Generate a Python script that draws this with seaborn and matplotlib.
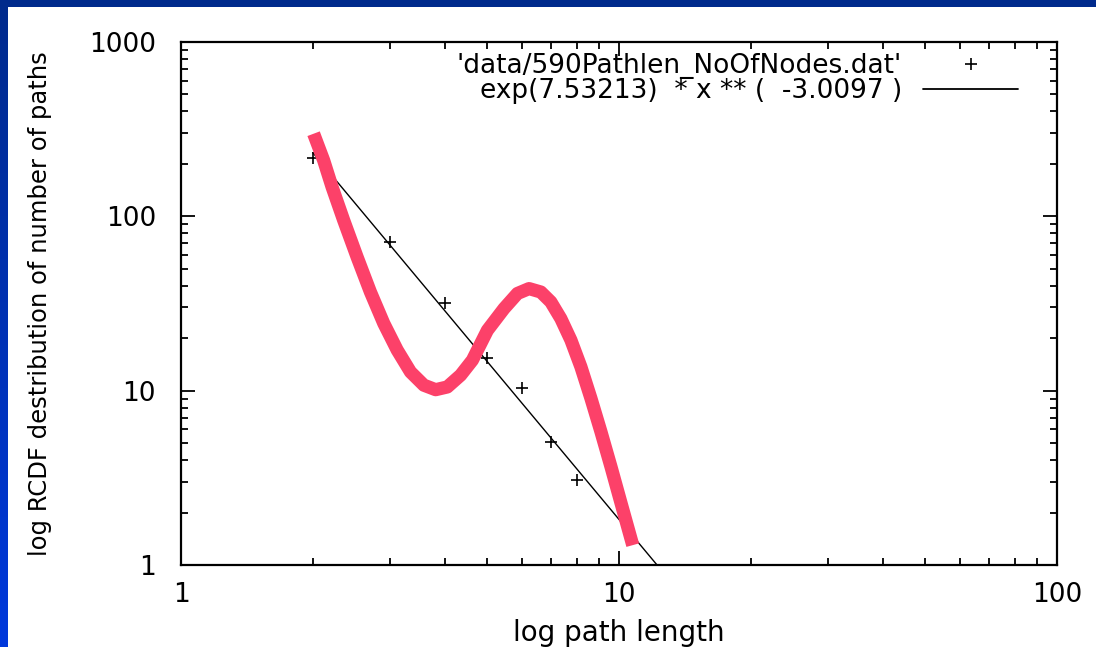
import numpy as np
import pandas as pd
import matplotlib
matplotlib.use("Agg")
import matplotlib.pyplot as plt
import matplotlib.ticker as mticker
from matplotlib.lines import Line2D
import seaborn as sns

# ---- data ----
path_len = [2, 3, 4, 5, 6, 7, 8]
n_paths = [215, 71, 32, 15.4, 10.3, 5.07, 3.07]

fit_coef = 7.53213
fit_exp = -3.0097
fit_x_range = [2, 12.21]

# hand-drawn highlight curve (read point by point)
curve_x = [2.008, 2.117, 2.213, 2.352, 2.524, 2.707, 2.904, 3.116, 3.342, 3.585,
           3.814, 4.055, 4.349, 4.627, 5.007, 5.465, 5.864, 6.232, 6.630, 6.988,
           7.366, 7.766, 8.185, 8.63, 9.095, 9.587, 10.11, 10.75]
curve_y = [297.8, 209.4, 147.2, 94.9, 58.4, 36.8, 24.3, 17.1, 12.8, 10.75,
           10.13, 10.5, 12.27, 14.96, 22.2, 29.6, 36.1, 38.5, 36.8, 32.3,
           25.9, 19.5, 13.7, 9.02, 5.81, 3.66, 2.26, 1.30]

x_ticks = [1, 10, 100]
y_ticks = [1, 10, 100, 1000]
legend_labels = ["'data/590Pathlen_NoOfNodes.dat'",
                 "exp(7.53213)  * x ** (  -3.0097 )"]
x_label = "log path length"
y_label = "log RCDF destribution of number of paths"

sns.set_theme(style="white")
plt.rcParams['font.family'] = ['DejaVu Sans']
plt.rcParams['text.color'] = 'black'
plt.rcParams['axes.labelcolor'] = 'black'
plt.rcParams['xtick.color'] = 'black'
plt.rcParams['ytick.color'] = 'black'

W, H = 1096, 647
fig = plt.figure(figsize=(W / 100, H / 100), dpi=100)
fig.patch.set_facecolor("white")

# blue slide frame: top band and left gradient band
top_ax = fig.add_axes([0, 1 - 7 / H, 1, 7 / H])
top_ax.set_facecolor("#002a8c")
top_ax.set_xticks([]); top_ax.set_yticks([])
for s in top_ax.spines.values():
    s.set_visible(False)
left_ax = fig.add_axes([0, 0, 8 / W, 1])
grad = np.linspace(0, 1, 256).reshape(-1, 1)
cmap = matplotlib.colors.LinearSegmentedColormap.from_list("b", ["#0039dc", "#002a8c"])
left_ax.imshow(grad, aspect="auto", cmap=cmap, origin="lower")
left_ax.axis("off")

ax = fig.add_axes([181 / W, 82 / H, 876 / W, 523 / H])
ax.set_facecolor("white")

df_pts = pd.DataFrame({"x": path_len, "y": n_paths})
fx = np.geomspace(fit_x_range[0], fit_x_range[1], 60)
df_fit = pd.DataFrame({"x": fx, "y": np.exp(fit_coef) * fx ** fit_exp})
df_curve = pd.DataFrame({"x": curve_x, "y": curve_y})

sns.lineplot(data=df_fit, x="x", y="y", ax=ax, color="black", linewidth=1.0,
             estimator=None, sort=False, legend=False)
sns.scatterplot(data=df_pts, x="x", y="y", ax=ax, marker="+", s=70,
                color="black", linewidth=1.2, legend=False, zorder=3)
sns.lineplot(data=df_curve, x="x", y="y", ax=ax, color="#fc4169", linewidth=9.5,
             estimator=None, sort=False, legend=False, zorder=4,
             solid_joinstyle="round", solid_capstyle="butt")

ax.set_xscale("log")
ax.set_yscale("log")
ax.set_xlim(1, 100)
ax.set_ylim(1, 1000)
ax.set_xticks(x_ticks)
ax.set_yticks(y_ticks)
fmt = mticker.FuncFormatter(lambda v, _: f"{v:g}")
ax.xaxis.set_major_formatter(fmt)
ax.yaxis.set_major_formatter(fmt)
ax.xaxis.set_minor_formatter(mticker.NullFormatter())
ax.yaxis.set_minor_formatter(mticker.NullFormatter())
ax.xaxis.set_minor_locator(mticker.LogLocator(base=10, subs=np.arange(2, 10)))
ax.yaxis.set_minor_locator(mticker.LogLocator(base=10, subs=np.arange(2, 10)))

ax.tick_params(which="both", direction="in", top=True, right=True,
               bottom=True, left=True, color="black", labelcolor="black")
ax.tick_params(which="major", length=10, width=1.3, labelsize=19)
ax.tick_params(which="minor", length=5, width=1.3)
ax.tick_params(axis="x", which="major", pad=12)
ax.tick_params(axis="y", which="major", pad=18)
for s in ax.spines.values():
    s.set_visible(True)
    s.set_color("black")
    s.set_linewidth(1.6)
ax.grid(False)

ax.set_xlabel(x_label, fontsize=20, labelpad=8, color="black")
ax.set_ylabel(y_label, fontsize=17.5, color="black")
ax.yaxis.set_label_coords(-(181 - 52) / 876, 0.5)

handles = [Line2D([], [], marker="+", linestyle="", color="black",
                  markersize=8, markeredgewidth=1.2),
           Line2D([], [], color="black", linewidth=1.3)]
leg = ax.legend(handles, legend_labels, loc="upper right",
                bbox_to_anchor=(1018 / W, (H - 53) / H),
                bbox_transform=fig.transFigure, frameon=False,
                markerfirst=False, fontsize=19, handlelength=3.6,
                handletextpad=0.8, labelspacing=-0.02, borderpad=0,
                borderaxespad=0)
for t in leg.get_texts():
    t.set_ha("right")
    t.set_color("black")
leg._legend_box.align = "right"

fig.savefig("out.png", dpi=100)
